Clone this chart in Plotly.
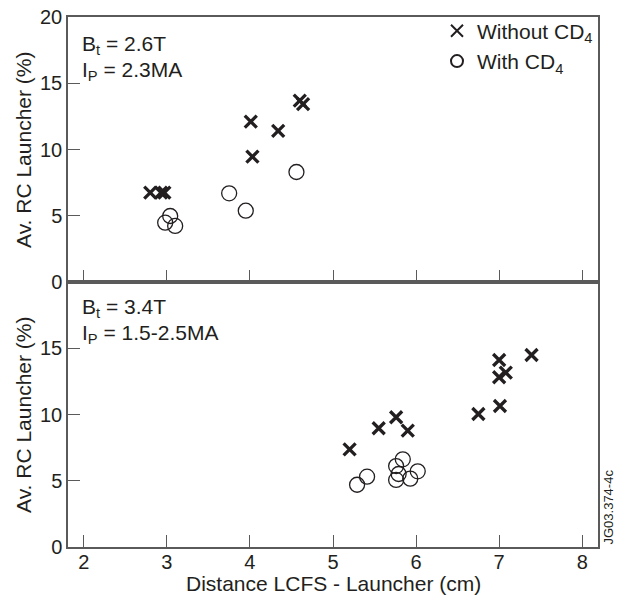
import plotly.graph_objects as go
from plotly.subplots import make_subplots

# Top panel (Bt = 2.6T, Ip = 2.3MA)
top_without_x = [2.80, 2.93, 2.97, 4.01, 4.03, 4.34, 4.60, 4.64]
top_without_y = [6.74, 6.74, 6.74, 12.10, 9.46, 11.40, 13.69, 13.43]
top_with_x = [2.98, 3.04, 3.10, 3.75, 3.95, 4.56]
top_with_y = [4.48, 4.98, 4.23, 6.69, 5.38, 8.30]

# Bottom panel (Bt = 3.4T, Ip = 1.5-2.5MA)
bot_without_x = [5.20, 5.55, 5.76, 5.90, 6.75, 7.01, 7.00, 7.00, 7.08, 7.39]
bot_without_y = [7.37, 8.96, 9.79, 8.78, 10.04, 10.64, 14.11, 12.81, 13.16, 14.49]
bot_with_x = [5.29, 5.41, 5.76, 5.84, 5.79, 5.76, 5.93, 6.02]
bot_with_y = [4.70, 5.31, 6.11, 6.62, 5.51, 5.06, 5.16, 5.71]

x_ticks = [2, 3, 4, 5, 6, 7, 8]
y_ticks_top = [0, 5, 10, 15, 20]
y_ticks_bot = [0, 5, 10, 15]

INK = "#231f20"
LINE = "#5a5a5a"
FONT = "Liberation Sans, Arial, sans-serif"

fig = make_subplots(rows=2, cols=1, shared_xaxes=False, vertical_spacing=0)

cross = dict(symbol="x-thin", size=12, line=dict(width=3.3, color=INK), color=INK)
circ = dict(symbol="circle-open", size=15, line=dict(width=1.3, color=INK), color=INK)

fig.add_trace(go.Scatter(x=top_without_x, y=top_without_y, mode="markers", marker=cross,
                         name="Without CD<sub>4</sub>", showlegend=True), row=1, col=1)
fig.add_trace(go.Scatter(x=top_with_x, y=top_with_y, mode="markers", marker=circ,
                         name="With CD<sub>4</sub>", showlegend=True), row=1, col=1)
fig.add_trace(go.Scatter(x=bot_without_x, y=bot_without_y, mode="markers", marker=cross,
                         showlegend=False), row=2, col=1)
fig.add_trace(go.Scatter(x=bot_with_x, y=bot_with_y, mode="markers", marker=circ,
                         showlegend=False), row=2, col=1)

axis_common = dict(showline=True, linecolor=LINE, linewidth=1.5, mirror=True,
                   ticks="inside", ticklen=12, tickwidth=1.2, tickcolor=LINE,
                   showgrid=False, zeroline=False, automargin=False,
                   ticklabeloverflow="allow",
                   tickfont=dict(family=FONT, size=20, color=INK))

fig.update_xaxes(range=[1.81, 8.19], tickvals=x_ticks, ticklabelstandoff=-4, **axis_common)
fig.update_xaxes(showticklabels=False, row=1, col=1)
fig.update_yaxes(range=[0, 20], **axis_common)
fig.update_yaxes(tickvals=y_ticks_top, row=1, col=1)
fig.update_yaxes(tickvals=y_ticks_bot, row=2, col=1)

# page body adds an 8px offset, so the figure is sized/margined to compensate
fig.update_layout(
    width=614, height=591,
    margin=dict(l=60, r=24, t=9, b=52, autoexpand=False),
    plot_bgcolor="white", paper_bgcolor="white",
    font=dict(family=FONT, size=20, color=INK),
    legend=dict(x=1.0, y=1.012, xanchor="right", yanchor="top",
                bgcolor="rgba(0,0,0,0)", font=dict(family=FONT, size=21, color=INK),
                itemsizing="constant", tracegroupgap=0, itemwidth=30),
)

title_font = dict(family=FONT, size=21, color=INK)
fig.add_annotation(xref="paper", yref="paper", x=-0.084, y=0.75, xanchor="center", yanchor="middle",
                   text="Av. RC Launcher (%)", textangle=-90, showarrow=False, font=title_font)
fig.add_annotation(xref="paper", yref="paper", x=-0.084, y=0.25, xanchor="center", yanchor="middle",
                   text="Av. RC Launcher (%)", textangle=-90, showarrow=False, font=title_font)
fig.add_annotation(xref="paper", yref="paper", x=0.5, y=-0.068, xanchor="center", yanchor="middle",
                   text="Distance LCFS - Launcher (cm)", showarrow=False, font=title_font)

ann_font = dict(family=FONT, size=21, color=INK)
panel_labels = [
    ("B<sub>t</sub> = 2.6T", 0.948),
    ("I<sub>P</sub> = 2.3MA", 0.899),
    ("B<sub>t</sub> = 3.4T", 0.451),
    ("I<sub>P</sub> = 1.5-2.5MA", 0.402),
]
for txt, yy in panel_labels:
    fig.add_annotation(xref="paper", yref="paper", x=0.022, y=yy, xanchor="left", yanchor="middle",
                       text=txt, showarrow=False, align="left", font=ann_font)

fig.add_annotation(xref="paper", yref="paper", x=1.001, y=0.0, xanchor="left", yanchor="bottom",
                   text="JG03.374-4c", textangle=-90, showarrow=False,
                   font=dict(family=FONT, size=13, color=INK))

fig.write_html("out.html")
